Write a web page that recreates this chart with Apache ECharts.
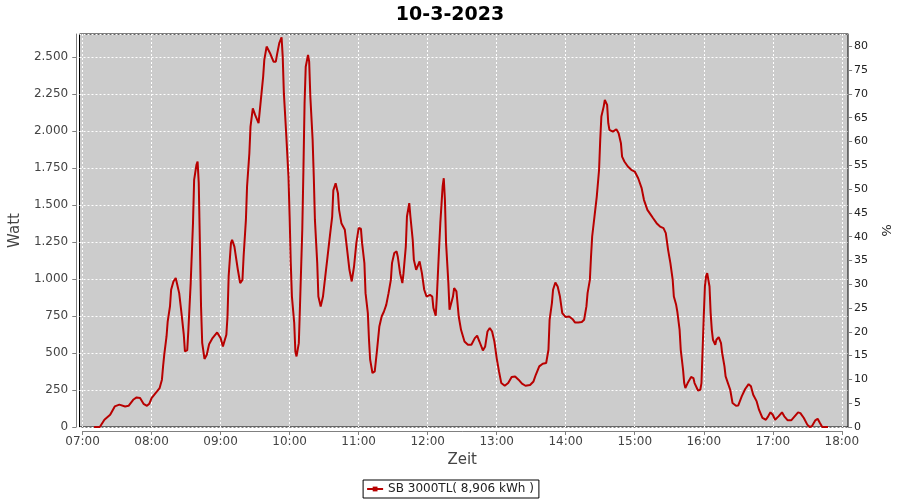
<!DOCTYPE html>
<html>
<head>
<meta charset="utf-8">
<script src="https://cdn.jsdelivr.net/npm/echarts@6/dist/echarts.min.js"></script>
<style>html,body{margin:0;padding:0;background:#fff}#c{width:900px;height:500px}</style>
</head>
<body>
<div id="c"></div>
<script>
var title = '10-3-2023';
var seriesName = 'SB 3000TL( 8,906 kWh )';
var times = ['07:10','07:15','07:19','07:24','07:28','07:32','07:37','07:40','07:44','07:47','07:50','07:53','07:56','07:58',
'08:00','08:04','08:07','08:09','08:10','08:11','08:13','08:14','08:16','08:17','08:19','08:21','08:24','08:26','08:28','08:29','08:31','08:32','08:34','08:36','08:37','08:39','08:40','08:41','08:42','08:43','08:44','08:46','08:48','08:50','08:53','08:57',
'09:00','09:02','09:05','09:06','09:07','09:09','09:10','09:12','09:15','09:17','09:19','09:20','09:22','09:23','09:25','09:26','09:28','09:30','09:33','09:35','09:37','09:38','09:40','09:43','09:46','09:48','09:49','09:51','09:53','09:54','09:55','09:57','09:59',
'10:00','10:01','10:02','10:04','10:05','10:06','10:08','10:09','10:11','10:12','10:13','10:14','10:16','10:17','10:18','10:20','10:21','10:22','10:24','10:25','10:27','10:29','10:31','10:33','10:35','10:37','10:38','10:40','10:42','10:43','10:45','10:48','10:50','10:52','10:54','10:56','10:58',
'11:00','11:02','11:03','11:05','11:06','11:08','11:09','11:10','11:12','11:14','11:16','11:18','11:20','11:22','11:24','11:26','11:28','11:29','11:31','11:33','11:34','11:36','11:38','11:39','11:41','11:42','11:44','11:45','11:47','11:48','11:50','11:51','11:53','11:55','11:57','11:59',
'12:02','12:04','12:05','12:07','12:08','12:10','12:11','12:13','12:14','12:15','12:16','12:18','12:19','12:20','12:22','12:23','12:25','12:27','12:29','12:32','12:35','12:38','12:41','12:43','12:45','12:48','12:50','12:52','12:54','12:56','12:58',
'13:00','13:02','13:04','13:07','13:10','13:13','13:16','13:19','13:22','13:25','13:29','13:32','13:34','13:37','13:40','13:43','13:45','13:46','13:48','13:49','13:51','13:53','13:55','13:57',
'14:00','14:03','14:04','14:06','14:08','14:11','14:14','14:16','14:18','14:19','14:21','14:22','14:23','14:25','14:27','14:29','14:30','14:31','14:33','14:34','14:36','14:37','14:38','14:41','14:44','14:46','14:48','14:49','14:51','14:54','14:57',
'15:00','15:03','15:06','15:08','15:11','15:14','15:16','15:19','15:22','15:25','15:27','15:29','15:31','15:33','15:34','15:36','15:37','15:39','15:40','15:42','15:43','15:44','15:46','15:49','15:51','15:52','15:55','15:57','15:58','15:59',
'16:00','16:01','16:02','16:03','16:05','16:06','16:07','16:08','16:10','16:11','16:13','16:15','16:16','16:18','16:19','16:21','16:23','16:25','16:28','16:30','16:33','16:36','16:39','16:41','16:43','16:46','16:48','16:51','16:54','16:56','16:58',
'17:00','17:02','17:05','17:08','17:10','17:13','17:16','17:19','17:22','17:24','17:27','17:30','17:32','17:34','17:37','17:39','17:41','17:43','17:48'];
var watts = [0,0,49,83,139,151,139,143,184,200,196,157,143,157,
196,234,263,320,410,488,612,713,815,928,984,1007,905,770,624,511,520,657,973,1378,1671,1772,1795,1650,1245,815,569,460,488,560,601,639,
601,545,624,747,1018,1243,1265,1220,1063,973,995,1153,1400,1626,1851,2031,2155,2110,2054,2211,2369,2482,2572,2527,2470,2470,2516,2595,2635,2504,2257,1986,1693,
1423,1108,882,703,511,477,567,815,1333,1739,2189,2436,2516,2470,2234,1941,1693,1400,1108,882,815,882,1018,1153,1290,1423,1600,1648,1581,1468,1378,1333,1198,1063,984,1085,1243,
1345,1340,1243,1108,905,770,590,455,365,376,522,680,747,781,826,905,995,1108,1176,1187,1153,1040,973,1040,1220,1423,1513,1423,1265,1130,1063,1074,1119,1040,928,882,
893,882,804,752,882,1220,1378,1626,1682,1536,1243,973,793,804,882,939,917,747,657,578,556,556,601,617,578,518,545,646,669,646,578,
466,376,297,279,297,338,342,320,293,279,284,308,353,410,428,432,522,725,838,928,977,950,882,770,
743,747,759,729,707,707,710,725,815,905,995,1153,1288,1423,1558,1739,1941,2099,2166,2211,2178,2054,2009,1997,2013,1986,1919,1828,1795,1761,1739,
1727,1682,1615,1536,1468,1434,1411,1378,1355,1345,1311,1198,1108,995,882,826,781,657,522,387,297,263,297,338,331,297,247,252,297,522,
747,950,1018,1040,950,770,657,590,556,590,608,567,500,410,342,297,252,162,144,146,207,257,290,275,218,173,117,61,49,72,99,
83,49,72,99,72,45,45,72,99,94,61,16,0,5,45,56,27,0,0];
var hourMin = 7, hourMax = 18, hourStep = 1;
var wattMax = 2657, wattStep = 250;
var pctMax = 82.6, pctStep = 5;

function toHours(t){ var p = t.split(':'); return +p[0] + (+p[1]) / 60; }
function hhmm(v){ var h = Math.floor(v + 1e-9), m = Math.round((v - h) * 60); return (h < 10 ? '0' : '') + h + ':' + (m < 10 ? '0' : '') + m; }
var data = times.map(function(t,i){ return [toHours(t), watts[i]]; });
function dots(v){ return String(Math.round(v)).replace(/\B(?=(\d{3})+(?!\d))/g,'.'); }

var F = 'DejaVu Sans';
var AX = '#808080';
var gridLine = {show:true, lineStyle:{color:'#ffffff', width:1, type:[2,2]}};
var chart = echarts.init(document.getElementById('c'), null, {renderer:'canvas'});
chart.setOption({
  animation:false,
  backgroundColor:'#ffffff',
  title:{text:title, left:'center', top:1, textStyle:{fontFamily:F, fontSize:19, fontWeight:'bold', color:'#000'}},
  grid:[
    {left:79.5, top:34, right:52, bottom:73, show:true, backgroundColor:'#cccccc', borderColor:'#000', borderWidth:1},
    {left:82.3, top:34, right:54.3, bottom:73, show:false}
  ],
  legend:{bottom:2, left:'center', data:[seriesName], borderColor:'#000', borderWidth:1, borderRadius:0, backgroundColor:'#fff',
    padding:[3,5,3,3], itemWidth:16, itemHeight:6, itemGap:5, textStyle:{fontFamily:F, fontSize:12, color:'#222'}},
  xAxis:[
    {gridIndex:0, type:'value', min:0, max:1, show:false},
    {gridIndex:1, type:'value', min:hourMin, max:hourMax, interval:hourStep, offset:4,
     name:'Zeit', nameLocation:'middle', nameGap:22, nameTextStyle:{fontFamily:F, fontSize:15, color:'#444'},
     axisLine:{show:true, onZero:false, lineStyle:{color:AX, width:1}},
     axisTick:{show:true, length:4, lineStyle:{color:AX}},
     axisLabel:{formatter:hhmm, fontFamily:F, fontSize:12, color:'#444', margin:5},
     splitLine:gridLine}
  ],
  yAxis:[
    {gridIndex:0, type:'value', min:0, max:wattMax, interval:wattStep,
     axisLine:{show:false}, axisTick:{show:false}, axisLabel:{show:false}, splitLine:gridLine},
    {gridIndex:1, type:'value', min:0, max:wattMax, interval:wattStep, offset:6.3, position:'left',
     name:'Watt', nameLocation:'middle', nameGap:43, nameTextStyle:{fontFamily:F, fontSize:15, color:'#444'},
     axisLine:{show:true, onZero:false, lineStyle:{color:AX}}, axisTick:{show:true, length:4, lineStyle:{color:AX}},
     axisLabel:{formatter:dots, fontFamily:F, fontSize:12, color:'#444', margin:8, showMaxLabel:false},
     splitLine:{show:false}},
    {gridIndex:1, type:'value', min:0, max:pctMax, interval:pctStep, offset:6.3, position:'right',
     name:'%', nameLocation:'middle', nameGap:19, nameRotate:-90, nameTextStyle:{fontFamily:F, fontSize:13, color:'#222'},
     axisLine:{show:true, onZero:false, lineStyle:{color:AX}}, axisTick:{show:true, length:4, lineStyle:{color:AX}},
     axisLabel:{fontFamily:F, fontSize:11, color:'#222', margin:6, showMaxLabel:false},
     splitLine:{show:false}}
  ],
  series:[{name:seriesName, type:'line', data:data, xAxisIndex:1, yAxisIndex:1, symbol:'rect', symbolSize:4, showSymbol:false,
    clip:false, lineStyle:{color:'#b80000', width:2}, itemStyle:{color:'#b80000'}}]
});
</script>
</body>
</html>
